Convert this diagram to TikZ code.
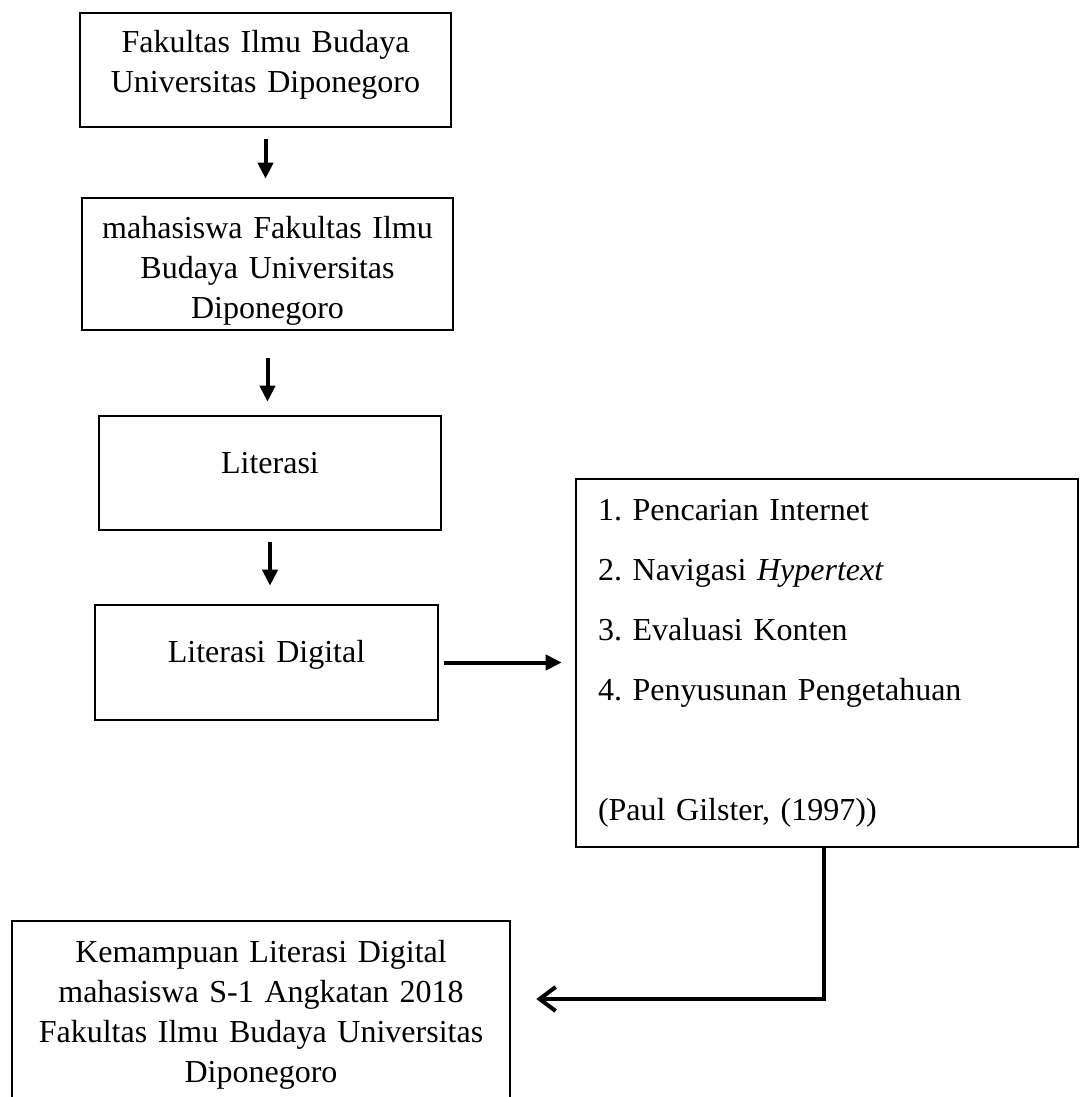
\documentclass[tikz,border=0pt]{standalone}
\usepackage{fontspec}
\setmainfont{Liberation Serif}
\frenchspacing
\usetikzlibrary{arrows.meta,calc}
\tikzset{>={Triangle[length=8pt,width=7.5pt]}}
\tikzset{box/.style={draw,line width=1.3pt,inner sep=0pt,align=center,font=\fontsize{16}{20}\selectfont,text height=11pt},
  flow/.style={->,line width=2pt}}

\begin{document}
\begin{tikzpicture}[x=0.5pt,y=-0.5pt]
    \useasboundingbox (0,0) rectangle (1080,1097);
    \coordinate (turn) at (824,999);

    \node[box,text width=185.5pt,minimum height=57pt,text depth=28pt] (fib) at (265.5,70) {Fakultas Ilmu Budaya\\Universitas Diponegoro};
    \node[box,text width=185.5pt,minimum height=66pt,text depth=37pt] (mhs) at (267.5,264) {mahasiswa Fakultas Ilmu\\Budaya Universitas\\Diponegoro};
    \node[box,text width=171pt,minimum height=57pt,text depth=11pt] (lit) at (270,473) {Literasi};
    \node[box,text width=171.5pt,minimum height=57.5pt,text depth=11pt] (litdig) at (266.5,662.5) {Literasi Digital};
    \node[box,align=left,inner xsep=11pt,text width=229pt,minimum height=184pt,text depth=154pt,font=\fontsize{16}{30}\selectfont] (gilster) at (827,663)
      {1. Pencarian Internet\\2. Navigasi \textit{Hypertext}\\3. Evaluasi Konten\\4. Penyusunan Pengetahuan\\[30pt](Paul Gilster, (1997))};
    \node[box,text width=249pt,minimum height=96pt,text depth=66pt] (hasil) at (261,1017) {Kemampuan Literasi Digital\\mahasiswa S-1 Angkatan 2018\\Fakultas Ilmu Budaya Universitas\\Diponegoro};

    \draw[flow,shorten <=5.5pt,shorten >=9pt](fib.south)--(fib.south |- mhs.north);
    \draw[flow,shorten <=13.5pt,shorten >=6.5pt](mhs.south)--(mhs.south |- lit.north);
    \draw[flow,shorten <=5.5pt,shorten >=9pt](lit.south)--(lit.south |- litdig.north);
    \draw[flow,shorten <=2.5pt,shorten >=6.5pt](litdig.east)--(litdig.east -| gilster.west);
    \draw[line width=2pt,-{Straight Barb[length=8pt,width=12pt]},shorten >=12.5pt](gilster.south -| turn)--(turn)--(turn -| hasil.east);
\end{tikzpicture}
\end{document}
